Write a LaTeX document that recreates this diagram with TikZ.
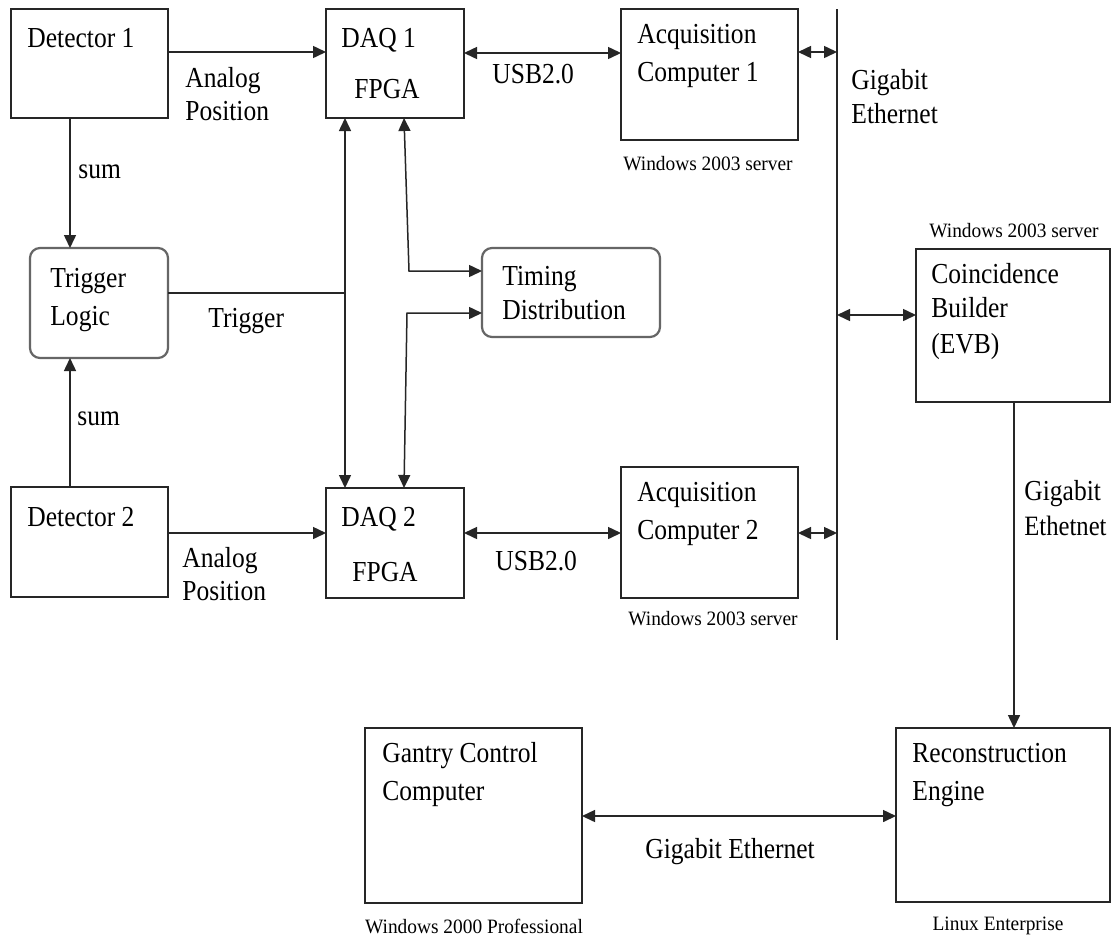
\documentclass[tikz,border=0pt]{standalone}
\usepackage{fontspec}
\setmainfont[FakeStretch=0.88]{Liberation Serif}
\newfontfamily\smallserif[FakeStretch=0.95]{Liberation Serif}
\usetikzlibrary{arrows.meta,fit}
\begin{document}
\begin{tikzpicture}[x=0.5pt,y=-0.5pt,
  box/.style={draw=black!85, line width=0.8pt, inner sep=0pt, outer sep=0pt},
  rbox/.style={draw=black!60, line width=1.1pt, rounded corners=5pt, inner sep=0pt, outer sep=0pt},
  txt/.style={anchor=base west, inner sep=0pt, font=\fontsize{14.5}{16}\selectfont},
  stxt/.style={anchor=base, inner sep=0pt, font=\smallserif\fontsize{10.2}{12}\selectfont},
  conn/.style={line width=0.75pt, draw=black!85},
  arr/.style={conn, -{Triangle[length=6.5pt,width=6pt]}},
  darr/.style={conn, {Triangle[length=6.5pt,width=6pt]}-{Triangle[length=6.5pt,width=6pt]}},
]
\useasboundingbox (0,0) rectangle (1112,938);
\fill[white] (0,0) rectangle (1112,938);

% boxes
\node[box, fit={(11,9) (168,118)}] (det1) {};
\node[box, fit={(326,9) (464,118)}] (daq1) {};
\node[box, fit={(621,9) (798,140)}] (acq1) {};
\node[rbox, fit={(30,248) (168,358)}] (trig) {};
\node[rbox, fit={(482,248) (660,337)}] (timing) {};
\node[box, fit={(916,249) (1110,402)}] (evb) {};
\node[box, fit={(11,487) (168,597)}] (det2) {};
\node[box, fit={(326,488) (464,598)}] (daq2) {};
\node[box, fit={(621,467) (798,598)}] (acq2) {};
\node[box, fit={(365,728) (582,903)}] (gantry) {};
\node[box, fit={(896,728) (1110,902)}] (recon) {};

\coordinate (bustop) at (837,9);
\coordinate (busbot) at (837,640);
\coordinate (tj) at (345,293);
\coordinate (tu) at (409,271);
\coordinate (tl) at (407,313);

% connectors
\draw[conn] (bustop) -- (busbot);
\draw[arr] (det1.east |- 0,52) -- (daq1.west |- 0,52);
\draw[darr] (daq1.east |- 0,53) -- (acq1.west |- 0,53);
\draw[darr] (acq1.east |- 0,52) -- (bustop |- 0,52);
\draw[arr] (det1.south -| 70,0) -- (trig.north -| 70,0);
\draw[arr] (det2.north -| 70,0) -- (trig.south -| 70,0);
\draw[conn] (trig.east |- tj) -- (tj);
\draw[darr] (daq1.south -| tj) -- (daq2.north -| tj);
\draw[darr] (daq1.south -| 404,0) -- (tu) -- (timing.west |- tu);
\draw[darr] (timing.west |- tl) -- (tl) -- (daq2.north -| 404,0);
\draw[arr] (det2.east |- 0,533) -- (daq2.west |- 0,533);
\draw[darr] (daq2.east |- 0,533) -- (acq2.west |- 0,533);
\draw[darr] (acq2.east |- 0,533) -- (busbot |- 0,533);
\draw[darr] (bustop |- 0,315) -- (evb.west |- 0,315);
\draw[arr] (evb.south -| 1014,0) -- (recon.north -| 1014,0);
\draw[darr] (gantry.east |- 0,816) -- (recon.west |- 0,816);

% texts
\node[txt] (l1) at (27,47) {Detector 1};
\node[txt] (l2) at (341,47) {DAQ 1};
\node[txt] (l3) at (354,98) {FPGA};
\node[txt] (l4) at (185,87) {Analog};
\node[txt] (l5) at (185,120) {Position};
\node[txt] (l6) at (492,83) {USB2.0};
\node[txt] (l7) at (637,43) {Acquisition};
\node[txt] (l8) at (637,81) {Computer 1};
\node[stxt] (l9) at (708,170) {Windows 2003 server};
\node[txt] (l10) at (851,89) {Gigabit};
\node[txt] (l11) at (851,123) {Ethernet};
\node[txt] (l12) at (78,178) {sum};
\node[txt] (l13) at (50,287) {Trigger};
\node[txt] (l14) at (50,325) {Logic};
\node[txt] (l15) at (208,327) {Trigger};
\node[txt] (l16) at (502,285) {Timing};
\node[txt] (l17) at (502,319) {Distribution};
\node[stxt] (l18) at (1014,237) {Windows 2003 server};
\node[txt] (l19) at (931,283) {Coincidence};
\node[txt] (l20) at (931,317) {Builder};
\node[txt] (l21) at (931,353) {(EVB)};
\node[txt] (l22) at (77,425) {sum};
\node[txt] (l23) at (27,526) {Detector 2};
\node[txt] (l24) at (341,526) {DAQ 2};
\node[txt] (l25) at (352,581) {FPGA};
\node[txt] (l26) at (182,567) {Analog};
\node[txt] (l27) at (182,600) {Position};
\node[txt] (l28) at (495,570) {USB2.0};
\node[txt] (l29) at (637,501) {Acquisition};
\node[txt] (l30) at (637,539) {Computer 2};
\node[stxt] (l31) at (713,625) {Windows 2003 server};
\node[txt] (l32) at (1024,500) {Gigabit};
\node[txt] (l33) at (1024,535) {\fontsize{14}{16}\selectfont Ethetnet};
\node[txt] (l34) at (382,762) {Gantry Control};
\node[txt] (l35) at (382,800) {Computer};
\node[txt] (l36) at (645,858) {Gigabit Ethernet};
\node[txt] (l37) at (912,762) {Reconstruction};
\node[txt] (l38) at (912,800) {Engine};
\node[stxt] (l39) at (474,933) {Windows 2000 Professional};
\node[stxt] (l40) at (998,930) {Linux Enterprise};
\end{tikzpicture}
\end{document}
